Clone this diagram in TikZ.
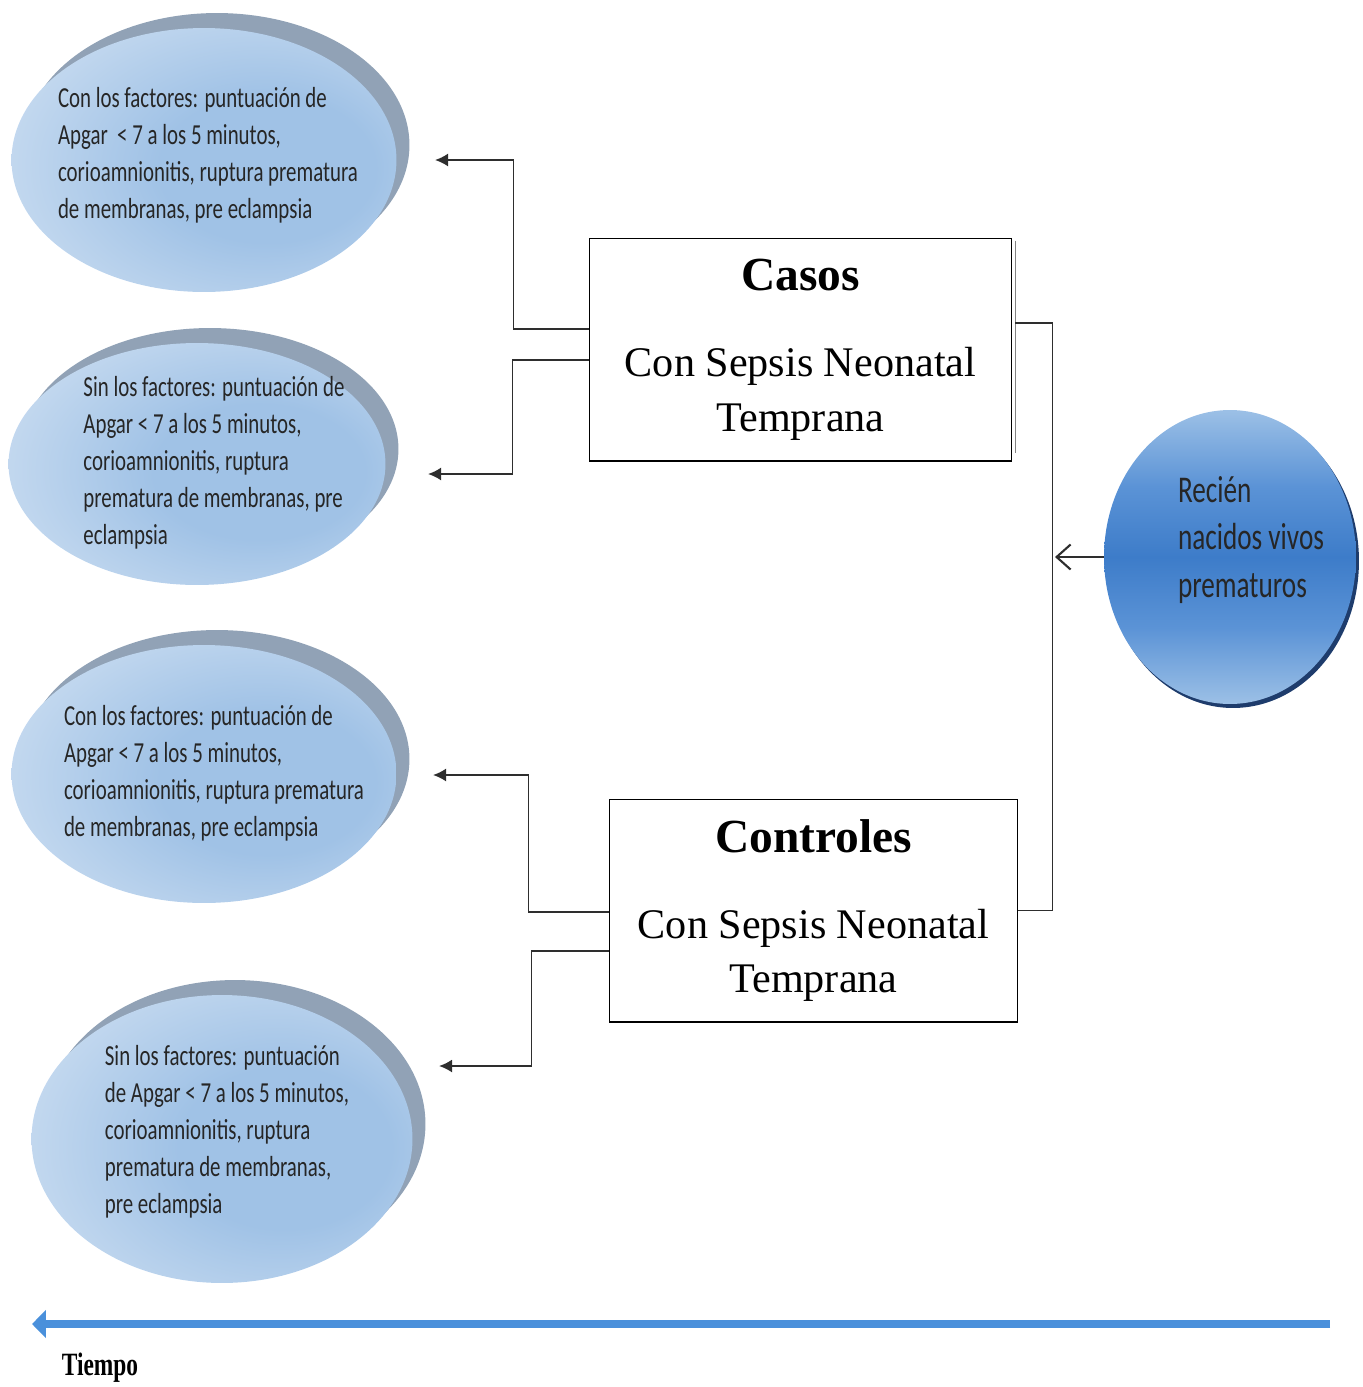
\documentclass[tikz,border=0pt]{standalone}
\usepackage{fontspec}
\setmainfont{Liberation Serif}
\newfontfamily\ellfont[FakeStretch=0.72]{Carlito}
\newfontfamily\tiempofont[FakeStretch=0.72]{Liberation Serif}
\usetikzlibrary{shapes.geometric,arrows.meta,calc,shadows}

\definecolor{elite}{HTML}{DFEAF6}
\definecolor{emid}{HTML}{A0C2E6}
\definecolor{eshadow}{HTML}{91A2B6}
\definecolor{rnlite}{HTML}{9CC0E6}
\definecolor{rnmid}{HTML}{5B93D6}
\definecolor{rndark}{HTML}{3D7CC9}
\definecolor{rnedge}{HTML}{1E3C6C}
\definecolor{lineg}{HTML}{2E2E2E}
\definecolor{tline}{HTML}{4A90DB}

\pgfdeclareradialshading{eshade}{\pgfpoint{10bp}{-2bp}}{color(0bp)=(emid); color(14bp)=(emid); color(46bp)=(elite); color(80bp)=(elite)}
\pgfdeclareverticalshading{rnshade}{100bp}{color(0bp)=(rnlite); color(25bp)=(rnlite); color(38bp)=(rnmid); color(50bp)=(rndark); color(62bp)=(rnmid); color(75bp)=(rnlite); color(100bp)=(rnlite)}

\tikzset{
  factor/.style={ellipse, inner sep=0pt, shading=eshade,
    general shadow={fill=eshadow, shadow xshift=0.26cm, shadow yshift=0.3cm}},
  ftext/.style={align=left, font=\ellfont\fontsize{16.5}{21}\selectfont, text=black!85},
  rntext/.style={align=left, font=\ellfont\fontsize{21.5}{27}\selectfont, text=black!85},
  grupo/.style={draw, line width=0.6pt, minimum width=#1, minimum height=4.46cm,
    align=center, font=\fontsize{24}{31}\selectfont},
  conn/.style={draw=lineg, line width=1.1pt, -{Latex[length=0.26cm,width=0.26cm]}},
  link/.style={draw=lineg, line width=0.9pt},
}

\begin{document}
\begin{tikzpicture}[x=0.02cm, y=-0.02cm]
\useasboundingbox (0,0) rectangle (1363,1387);

% factores
\node[factor, minimum width=7.7cm, minimum height=5.28cm] (e1) at (204,160) {};
\node[factor, minimum width=7.54cm, minimum height=4.84cm] (e2) at (197,464) {};
\node[factor, minimum width=7.7cm, minimum height=5.16cm] (e3) at (204,774) {};
\node[factor, minimum width=7.62cm, minimum height=5.76cm] (e4) at (222,1139) {};

\node[ftext] (txt1) at (208,155) {Con los factores: puntuación de\\Apgar \ < 7 a los 5 minutos,\\corioamnionitis, ruptura prematura\\de membranas, pre eclampsia};
\node[ftext] (txt2) at (214,463) {Sin los factores: puntuación de\\Apgar < 7 a los 5 minutos,\\corioamnionitis, ruptura\\prematura de membranas, pre\\eclampsia};
\node[ftext] (txt3) at (214,773) {Con los factores: puntuación de\\Apgar < 7 a los 5 minutos,\\corioamnionitis, ruptura prematura\\de membranas, pre eclampsia};
\node[ftext] (txt4) at (227,1132) {Sin los factores: puntuación\\de Apgar < 7 a los 5 minutos,\\corioamnionitis, ruptura\\prematura de membranas,\\pre eclampsia};

% grupos
\node[grupo=8.46cm] (casos) at (800.5,349.5) {{\fontsize{27}{32}\selectfont\bfseries Casos}\\[18pt]Con Sepsis Neonatal\\Temprana};
\node[grupo=8.18cm] (ctrl) at (813.5,910.5) {{\fontsize{27}{32}\selectfont\bfseries Controles}\\[18pt]Con Sepsis Neonatal\\Temprana};
\draw[lineg!60, line width=0.6pt] ($(casos.north east)+(3,3)$) -- ($(casos.south east)+(3,-9)$);

% recien nacidos
\node[ellipse, minimum width=5.04cm, minimum height=5.88cm, shading=rnshade,
  general shadow={fill=rnedge, shadow xshift=0.06cm, shadow yshift=-0.08cm}] (rn) at (1230,557) {};
\node[rntext] (rntxt) at (1251,540) {Recién\\nacidos vivos\\prematuros};

% conectores
\coordinate (a1) at (435,160);
\coordinate (a2) at (428,474);
\coordinate (a3) at (433,775);
\coordinate (a4) at (439,1066);
\coordinate (j) at (1055,557);
\draw[conn] ($(casos.west)+(0,-20.5)$) -- ++(-75,0) |- (a1);
\draw[conn] ($(casos.west)+(0,10.5)$) -- ++(-76,0) |- (a2);
\draw[conn] ($(ctrl.west)+(0,1.5)$) -- ++(-80,0) |- (a3);
\draw[conn] ($(ctrl.west)+(0,40.5)$) -- ++(-77,0) |- (a4);
\draw[link] ($(casos.east)+(3,-26.5)$) -- ++(37,0) |- (ctrl.east);
\draw[link, line width=1.2pt, -{Straight Barb[length=0.28cm,width=0.5cm]}] (rn.west) -- (j);

% tiempo
\coordinate (tr) at (1330,1324);
\coordinate (tl) at (32,1324);
\draw[line width=0.16cm, tline, -{Triangle[length=0.28cm,width=0.55cm]}] (tr) -- (tl);
\node[font=\tiempofont\bfseries\fontsize{18.5}{20}\selectfont] (tiempo) at (100,1368) {Tiempo};
\end{tikzpicture}
\end{document}
